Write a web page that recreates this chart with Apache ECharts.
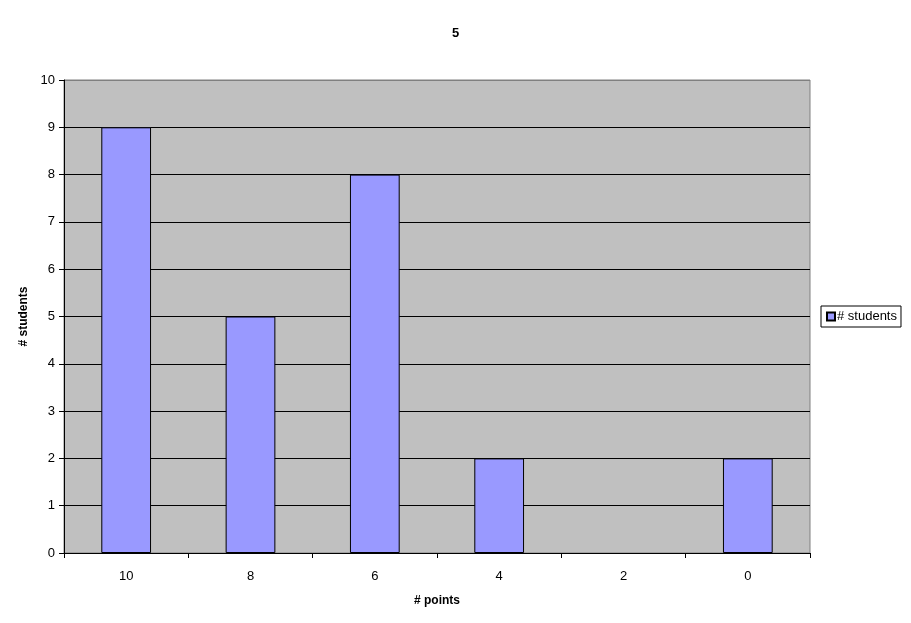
<!DOCTYPE html>
<html><head><meta charset="utf-8">
<script src="https://cdn.jsdelivr.net/npm/echarts@6/dist/echarts.min.js"></script>
<style>html,body{margin:0;padding:0;background:#fff}#c{width:911px;height:623px}</style>
</head><body><div id="c"></div>
<script>
const titleText = "5";
const categories = ["10", "8", "6", "4", "2", "0"];
const students = [9, 5, 8, 2, 0, 2];
const seriesName = "# students";
const xName = "# points";
const yName = "# students";

const chart = echarts.init(document.getElementById('c'));
const font = 'Arial, "Liberation Sans", sans-serif';
const gridColors = ['#000','#000','#000','#000','#000','#000','#000','#000','#000','#000','#808080'];
chart.setOption({
  animation: false,
  title: { text: titleText, left: 'center', top: 22, textStyle: { fontFamily: font, fontSize: 13, fontWeight: 'bold', color: '#000' } },
  legend: {
    left: 821, top: 306, orient: 'vertical',
    borderColor: '#000', borderWidth: 1, borderRadius: 0,
    padding: [4, 4, 4, 5],
    itemWidth: 8, itemHeight: 8, itemGap: 4,
    icon: 'rect',
    textStyle: { fontFamily: font, fontSize: 13, color: '#000', padding: [0, 0, 0, -3] },
    data: [seriesName]
  },
  grid: { left: 64, right: 101, top: 80, bottom: 70, show: true, backgroundColor: '#C0C0C0', borderColor: '#808080', borderWidth: 1 },
  xAxis: {
    type: 'category', data: categories,
    name: xName, nameLocation: 'middle', nameGap: 42,
    nameTextStyle: { fontFamily: font, fontSize: 12, fontWeight: 'bold', color: '#000' },
    axisLine: { lineStyle: { color: '#000', width: 1 } },
    axisTick: { show: true, length: 5, lineStyle: { color: '#000' }, alignWithLabel: false },
    axisLabel: { fontFamily: font, fontSize: 13, color: '#000', margin: 17 },
    splitLine: { show: false }
  },
  yAxis: {
    type: 'value', min: 0, max: 10, interval: 1,
    name: yName, nameLocation: 'middle', nameGap: 34, nameRotate: 90,
    nameTextStyle: { fontFamily: font, fontSize: 12, fontWeight: 'bold', color: '#000' },
    axisLine: { show: true, lineStyle: { color: '#000', width: 1 } },
    axisTick: { show: true, length: 5, lineStyle: { color: '#000' } },
    axisLabel: { fontFamily: font, fontSize: 13, color: '#000', margin: 9 },
    splitLine: { show: true, lineStyle: { color: gridColors, width: 1 } }
  },
  series: [{
    name: seriesName, type: 'bar', barWidth: '40%',
    data: students.map(v => v === 0 ? { value: v, itemStyle: { borderWidth: 0, opacity: 0 } } : v),
    itemStyle: { color: '#9999FF', borderColor: '#000', borderWidth: 1 }
  }]
});
</script></body></html>
